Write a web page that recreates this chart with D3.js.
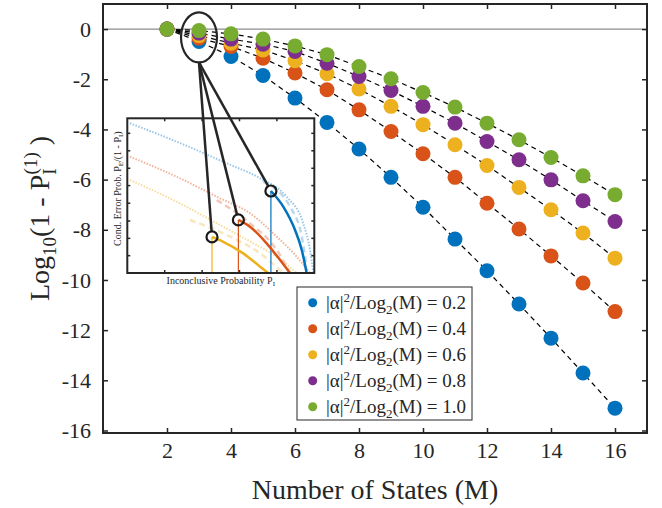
<!DOCTYPE html>
<html>
<head>
<meta charset="utf-8">
<script src="https://cdn.jsdelivr.net/npm/d3@7/dist/d3.min.js"></script>
<style>
  body { margin: 0; background: #fff; }
  svg text { font-family: "Liberation Serif", "Times New Roman", serif !important; fill: #262626; }
</style>
</head>
<body>
<script>
// Data
var numStates = [2, 3, 4, 5, 6, 7, 8, 9, 10, 11, 12, 13, 14, 15, 16];
var ratioLabels = ["0.2", "0.4", "0.6", "0.8", "1.0"];
var seriesColors = ["#0072BD", "#D95319", "#EDB120", "#7E2F8E", "#77AC30"];

var logErr02 = [0, -0.49, -1.09, -1.85, -2.75, -3.72, -4.78, -5.91, -7.10, -8.37, -9.63, -10.96, -12.32, -13.71, -15.11];
var logErr04 = [0, -0.36, -0.69, -1.16, -1.75, -2.42, -3.22, -4.08, -4.97, -5.91, -6.94, -7.97, -9.04, -10.12, -11.26];
var logErr06 = [0, -0.26, -0.56, -0.83, -1.26, -1.78, -2.39, -3.08, -3.81, -4.61, -5.44, -6.31, -7.20, -8.13, -9.13];
var logErr08 = [0, -0.16, -0.40, -0.60, -0.89, -1.36, -1.89, -2.45, -3.08, -3.75, -4.48, -5.21, -6.01, -6.84, -7.67];
var logErr10 = [0, -0.06, -0.19, -0.40, -0.67, -1.02, -1.49, -1.98, -2.53, -3.11, -3.75, -4.41, -5.12, -5.85, -6.60];
var allSeries = [logErr02, logErr04, logErr06, logErr08, logErr10];

var xTicks = [2, 4, 6, 8, 10, 12, 14, 16];
var yTicks = [0, -2, -4, -6, -8, -10, -12, -14, -16];

// Inset (schematic, unit coordinates): [inconclusive prob, cond. error prob]
var insetBlueDotted = [[0.014, 0.968], [0.264, 0.849], [0.532, 0.709], [0.710, 0.612], [0.852, 0.493], [0.940, 0.323], [0.977, 0.149], [0.995, 0]];
var insetBlueDashed = [[0.726, 0.590], [0.870, 0.429], [0.933, 0.235], [0.959, 0.041]];
var insetBlueSolid = [[0.768, 0.530], [0.834, 0.429], [0.897, 0.278], [0.933, 0.149], [0.959, 0]];
var insetRedDotted = [[0.014, 0.752], [0.264, 0.622], [0.496, 0.483], [0.656, 0.386], [0.799, 0.235], [0.906, 0.105], [0.977, 0]];
var insetRedDashed = [[0.478, 0.472], [0.656, 0.321], [0.799, 0.149], [0.870, 0]];
var insetRedSolid = [[0.594, 0.343], [0.656, 0.299], [0.745, 0.192], [0.817, 0.084], [0.870, 0]];
var insetYellowDotted = [[0.014, 0.601], [0.264, 0.461], [0.496, 0.310], [0.674, 0.192], [0.799, 0.105], [0.906, 0]];
var insetYellowDashed = [[0.335, 0.343], [0.532, 0.246], [0.710, 0.127], [0.833, 0]];
var insetYellowSolid = [[0.453, 0.233], [0.513, 0.202], [0.620, 0.127], [0.710, 0.041], [0.754, 0]];
var insetXTicks = [0.2, 0.4, 0.6, 0.8];
var insetYTicks = [0.112, 0.224, 0.336, 0.451, 0.565, 0.677, 0.79, 0.903];

// Chart Params
var svgWidth = 662;
var svgHeight = 508;
var margin = { top: 4, right: 15, bottom: 75, left: 103 };
var width = svgWidth - margin.left - margin.right;
var height = svgHeight - margin.top - margin.bottom;

var svg = d3.select("body").append("svg")
  .attr("width", svgWidth)
  .attr("height", svgHeight);

var chartGroup = svg.append("g")
  .attr("transform", `translate(${margin.left}, ${margin.top})`);

var xScale = d3.scaleLinear().domain([0, 17]).range([0, width]);
var yScale = d3.scaleLinear().domain([1, -16.1]).range([0, height]);

// zero line
chartGroup.append("line")
  .attr("x1", 0).attr("x2", width)
  .attr("y1", yScale(0)).attr("y2", yScale(0))
  .attr("stroke", "#8c8c8c").attr("stroke-width", 1.2);

// axes (ticks inside, box on) - plain hyphen for negatives like matlab
var plainFmt = d => String(d);
function styleAxis(g) {
  g.select(".domain").remove();
  g.attr("font-family", "Liberation Serif");
  g.selectAll(".tick line").attr("stroke", "#262626").attr("stroke-width", 1.5);
  g.selectAll(".tick text").attr("font-size", 22).attr("fill", "#262626");
}
chartGroup.append("g")
  .attr("transform", `translate(0, ${height})`)
  .call(d3.axisBottom(xScale).tickValues(xTicks).tickSize(-5).tickSizeOuter(0).tickPadding(9).tickFormat(plainFmt))
  .call(styleAxis);
chartGroup.append("g")
  .call(d3.axisTop(xScale).tickValues(xTicks).tickSize(-5).tickSizeOuter(0).tickFormat(""))
  .call(styleAxis);
chartGroup.append("g")
  .call(d3.axisLeft(yScale).tickValues(yTicks).tickSize(-5).tickSizeOuter(0).tickPadding(12).tickFormat(plainFmt))
  .call(styleAxis);
chartGroup.append("g")
  .attr("transform", `translate(${width}, 0)`)
  .call(d3.axisRight(yScale).tickValues(yTicks).tickSize(-5).tickSizeOuter(0).tickFormat(""))
  .call(styleAxis);

// dashed guide lines
var line = d3.line()
  .x((d, i) => xScale(numStates[i]))
  .y(d => yScale(d));
allSeries.forEach(function(s) {
  chartGroup.append("path")
    .attr("d", line(s))
    .attr("fill", "none")
    .attr("stroke", "#000")
    .attr("stroke-width", 1.2)
    .attr("stroke-dasharray", "5,4");
});

// markers
allSeries.forEach(function(s, k) {
  chartGroup.append("g").selectAll("circle")
    .data(s)
    .enter()
    .append("circle")
    .attr("cx", (d, i) => xScale(numStates[i]))
    .attr("cy", d => yScale(d))
    .attr("r", 7.5)
    .attr("fill", seriesColors[k]);
});

// frame
chartGroup.append("rect")
  .attr("width", width).attr("height", height)
  .attr("fill", "none").attr("stroke", "#262626").attr("stroke-width", 2);

// ellipse round M = 3
var ellCx = xScale(3), ellCy = yScale(-0.33), ellRx = 18, ellRy = 25;
chartGroup.append("ellipse")
  .attr("cx", ellCx).attr("cy", ellCy)
  .attr("rx", ellRx).attr("ry", ellRy)
  .attr("fill", "none").attr("stroke", "#262626").attr("stroke-width", 2.2);

// ----- inset -----
var inset = { x: 127.3, y: 118.3, w: 187, h: 154.7 };
var insetGroup = svg.append("g");
var ix = d3.scaleLinear().domain([0, 1]).range([inset.x, inset.x + inset.w]);
var iy = d3.scaleLinear().domain([0, 1]).range([inset.y + inset.h, inset.y]);

insetGroup.append("rect")
  .attr("x", inset.x).attr("y", inset.y).attr("width", inset.w).attr("height", inset.h)
  .attr("fill", "#fff");

var insetLine = d3.line().x(d => ix(d[0])).y(d => iy(d[1])).curve(d3.curveMonotoneX);
function insetCurve(pts, color, w, dash, op) {
  insetGroup.append("path")
    .attr("d", insetLine(pts))
    .attr("fill", "none")
    .attr("stroke", color)
    .attr("stroke-width", w)
    .attr("stroke-dasharray", dash)
    .attr("opacity", op);
}
insetCurve(insetBlueDotted, "#9cc6e8", 2, "1.5,1.5", 1);
insetCurve(insetRedDotted, "#efb39a", 2, "1.5,1.5", 1);
insetCurve(insetYellowDotted, "#f7dc9c", 2, "1.5,1.5", 1);
insetCurve(insetBlueDashed, "#b9d8ef", 2.5, "6,4", 1);
insetCurve(insetRedDashed, "#f3c7b4", 2.5, "6,4", 1);
insetCurve(insetYellowDashed, "#f9e6bd", 2.5, "6,4", 1);

var solids = [[insetBlueSolid, seriesColors[0]], [insetRedSolid, seriesColors[1]], [insetYellowSolid, seriesColors[2]]];
solids.forEach(function(p) {
  var pts = p[0];
  insetGroup.append("line")
    .attr("x1", ix(pts[0][0])).attr("x2", ix(pts[0][0]))
    .attr("y1", iy(pts[0][1])).attr("y2", iy(0))
    .attr("stroke", p[1]).attr("stroke-width", 1.2);
  insetCurve(pts, p[1], 2.5, null, 1);
});

// inset frame and ticks
insetGroup.append("rect")
  .attr("x", inset.x).attr("y", inset.y).attr("width", inset.w).attr("height", inset.h)
  .attr("fill", "none").attr("stroke", "#262626").attr("stroke-width", 2);
insetXTicks.forEach(function(t) {
  insetGroup.append("line").attr("x1", ix(t)).attr("x2", ix(t)).attr("y1", iy(0)).attr("y2", iy(0) - 3)
    .attr("stroke", "#262626").attr("stroke-width", 1.5);
  insetGroup.append("line").attr("x1", ix(t)).attr("x2", ix(t)).attr("y1", iy(1)).attr("y2", iy(1) + 3)
    .attr("stroke", "#262626").attr("stroke-width", 1.5);
});
insetYTicks.forEach(function(t) {
  insetGroup.append("line").attr("x1", ix(0)).attr("x2", ix(0) + 3).attr("y1", iy(t)).attr("y2", iy(t))
    .attr("stroke", "#262626").attr("stroke-width", 1.5);
  insetGroup.append("line").attr("x1", ix(1)).attr("x2", ix(1) - 3).attr("y1", iy(t)).attr("y2", iy(t))
    .attr("stroke", "#262626").attr("stroke-width", 1.5);
});

// inset labels
var ylab = insetGroup.append("text")
  .attr("text-anchor", "middle")
  .attr("transform", `translate(121, ${inset.y + inset.h / 2 - 7}) rotate(-90)`)
  .attr("font-size", 10);
ylab.append("tspan").text("Cond. Error Prob. P");
ylab.append("tspan").attr("font-size", 7).attr("dy", 2).text("E");
ylab.append("tspan").attr("dy", -2).text("/(1 - P");
ylab.append("tspan").attr("font-size", 7).attr("dy", 2).text("I");
ylab.append("tspan").attr("dy", -2).text(")");

var xlab = insetGroup.append("text")
  .attr("text-anchor", "middle")
  .attr("x", inset.x + inset.w / 2)
  .attr("y", 284)
  .attr("font-size", 10);
xlab.append("tspan").text("Inconclusive Probability P");
xlab.append("tspan").attr("font-size", 7).attr("dy", 2).text("I");

// connector lines from ellipse to the inset circles
var startX = margin.left + ellCx, startY = margin.top + ellCy + ellRy;
var circleR = 5.5;
solids.forEach(function(p) {
  var cx = ix(p[0][0][0]), cy = iy(p[0][0][1]);
  var dx = cx - startX, dy = cy - startY, len = Math.sqrt(dx * dx + dy * dy);
  insetGroup.append("line")
    .attr("x1", startX).attr("y1", startY)
    .attr("x2", cx - dx / len * circleR).attr("y2", cy - dy / len * circleR)
    .attr("stroke", "#262626").attr("stroke-width", 2.5);
  insetGroup.append("circle")
    .attr("cx", cx).attr("cy", cy).attr("r", circleR)
    .attr("fill", "none").attr("stroke", "#1a1a1a").attr("stroke-width", 2.2);
});

// ----- legend -----
var legend = svg.append("g").attr("transform", "translate(297, 287)");
legend.append("rect")
  .attr("width", 175).attr("height", 133)
  .attr("fill", "#fff").attr("stroke", "#262626").attr("stroke-width", 1);
ratioLabels.forEach(function(lab, i) {
  var cy = 15.7 + i * 26;
  legend.append("circle").attr("cx", 15.7).attr("cy", cy).attr("r", 4.5).attr("fill", seriesColors[i]);
  var t = legend.append("text").attr("x", 29).attr("y", cy + 6).attr("font-size", 19);
  t.append("tspan").text("|α|");
  t.append("tspan").attr("font-size", 13).attr("dy", -7).text("2");
  t.append("tspan").attr("dy", 7).text("/Log");
  t.append("tspan").attr("font-size", 13).attr("dy", 5).text("2");
  t.append("tspan").attr("dy", -5).text("(M) = " + lab);
});

// axis titles
svg.append("text")
  .attr("text-anchor", "middle")
  .attr("x", margin.left + width / 2)
  .attr("y", 499)
  .attr("font-size", 28)
  .text("Number of States (M)");

var yTitle = svg.append("text")
  .attr("text-anchor", "middle")
  .attr("transform", `translate(49, ${margin.top + height / 2}) rotate(-90)`)
  .attr("font-size", 28);
yTitle.append("tspan").text("Log");
yTitle.append("tspan").attr("font-size", 19).attr("dy", 7).text("10");
yTitle.append("tspan").attr("dy", -7).text("(1 - P");
yTitle.append("tspan").attr("font-size", 19).attr("dy", 7).text("I");
yTitle.append("tspan").attr("font-size", 19).attr("dx", -6).attr("dy", -19).text("(1)");
yTitle.append("tspan").attr("dy", 12).text(" )");
</script>
</body>
</html>
